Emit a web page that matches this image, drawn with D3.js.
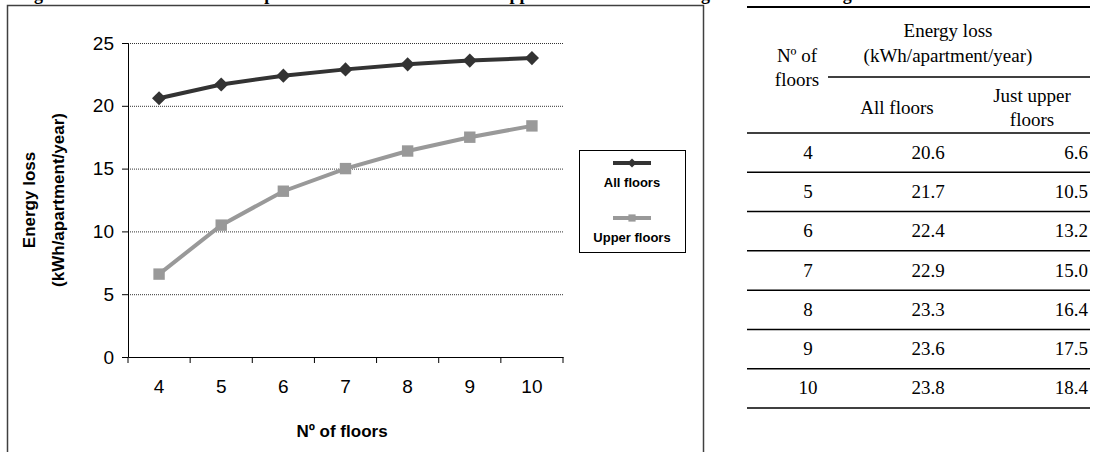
<!DOCTYPE html>
<html>
<head>
<meta charset="utf-8">
<script src="https://cdn.jsdelivr.net/npm/d3@7"></script>
<style>
  body { margin: 0; background: #fff; }
  svg { display: block; }
  .cell { font-family: "Times New Roman", "Liberation Serif", serif; font-size: 19px; fill: #000; }
</style>
</head>
<body>
<svg id="chart"></svg>
<script>
const floors = [4, 5, 6, 7, 8, 9, 10];
const allFloors = [20.6, 21.7, 22.4, 22.9, 23.3, 23.6, 23.8];
const upperFloors = [6.6, 10.5, 13.2, 15.0, 16.4, 17.5, 18.4];
const yTicks = [0, 5, 10, 15, 20, 25];
const seriesNames = ["All floors", "Upper floors"];

var width = 1095;
var height = 452;
var plot = { left: 128, right: 563, top: 43, bottom: 357 };
var sans = 'Arial, "Liberation Sans", sans-serif';

var svg = d3.select('#chart')
  .attr('width', width)
  .attr('height', height)
  .attr('viewBox', [0, 0, width, height]);

// cut off captions: only descenders are visible at the top edge
svg.append('text')
  .attr('x', 18).attr('y', 0)
  .style('font-family', '"Times New Roman", "Liberation Serif", serif')
  .style('font-weight', 'bold').style('font-size', '18px')
  .text('Figure 5. Total heat loss for an apartment on the whole and on upper floors of the building');
svg.append('text')
  .attr('x', 747).attr('y', 0)
  .style('font-family', '"Times New Roman", "Liberation Serif", serif')
  .style('font-weight', 'bold').style('font-size', '18px')
  .text('Table 3. Long-term heat loss data');

// chart frame
svg.append('rect')
  .attr('x', 7.5).attr('y', 5.5)
  .attr('width', 696).attr('height', 470)
  .attr('fill', '#fff')
  .attr('stroke', '#404040').attr('stroke-width', 1.5);

///////////////////////////////////////////////////////////////////////////
// scales
var x = d3.scaleBand()
  .domain(floors)
  .range([plot.left, plot.right])
  .padding(0);

var y = d3.scaleLinear()
  .domain([0, 25])
  .range([plot.bottom, plot.top]);

// gridlines (dotted)
svg.append('g')
  .selectAll('line')
  .data(yTicks.filter(d => d > 0))
  .join('line')
    .attr('x1', plot.left).attr('x2', plot.right)
    .attr('y1', d => y(d) + 0.5).attr('y2', d => y(d) + 0.5)
    .attr('stroke', '#333')
    .attr('stroke-width', 1)
    .attr('stroke-dasharray', '1,1');

// y axis
var yAxis = svg.append('g')
  .attr('transform', 'translate(' + plot.left + ',0)')
  .call(d3.axisLeft(y).tickValues(yTicks).tickSize(6).tickSizeOuter(0).tickPadding(8))
  .attr('font-size', 19).attr('font-family', sans);
yAxis.selectAll('path, line').attr('stroke', '#000');
yAxis.selectAll('text').attr('fill', '#000');

// x axis: labels centred in bands, ticks on band boundaries
var xAxis = svg.append('g')
  .attr('transform', 'translate(0,' + plot.bottom + ')')
  .call(d3.axisBottom(x).tickSize(0).tickSizeOuter(0).tickPadding(23))
  .attr('font-size', 19).attr('font-family', sans);
xAxis.select('.domain').attr('stroke', '#000');
xAxis.selectAll('text').attr('fill', '#000');
xAxis.selectAll('.bound')
  .data(floors.map(d => x(d)).concat([x.range()[1]]))
  .join('line')
    .attr('class', 'bound')
    .attr('x1', d => d).attr('x2', d => d)
    .attr('y1', 0).attr('y2', 6)
    .attr('stroke', '#000');

// axis titles
svg.append('text')
  .attr('transform', 'translate(35,200) rotate(-90)')
  .attr('text-anchor', 'middle')
  .style('font-family', sans)
  .style('font-weight', 'bold').style('font-size', '17px')
  .text('Energy loss');
svg.append('text')
  .attr('transform', 'translate(64,200) rotate(-90)')
  .attr('text-anchor', 'middle')
  .style('font-family', sans)
  .style('font-weight', 'bold').style('font-size', '17px')
  .text('(kWh/apartment/year)');
svg.append('text')
  .attr('x', 342).attr('y', 437)
  .attr('text-anchor', 'middle')
  .style('font-family', sans)
  .style('font-weight', 'bold').style('font-size', '17px')
  .text('N\u00BA of floors');

///////////////////////////////////////////////////////////////////////////
// lines + markers
var series = [
  { name: seriesNames[0], values: allFloors, color: '#333', symbol: d3.symbolSquare, size: 100, rot: 45 },
  { name: seriesNames[1], values: upperFloors, color: '#999', symbol: d3.symbolSquare, size: 130, rot: 0 }
];
var line = d3.line()
  .x((d, i) => x(floors[i]) + x.bandwidth() / 2)
  .y(d => y(d));

series.forEach(function(s) {
  svg.append('path')
    .datum(s.values)
    .attr('d', line)
    .attr('fill', 'none')
    .attr('stroke', s.color)
    .attr('stroke-width', 4);
  svg.append('g')
    .selectAll('path')
    .data(s.values)
    .join('path')
      .attr('transform', (d, i) => 'translate(' + (x(floors[i]) + x.bandwidth() / 2) + ',' + y(d) + ') rotate(' + s.rot + ')')
      .attr('d', d3.symbol().type(s.symbol).size(s.size))
      .attr('fill', s.color);
});

// legend
var legend = svg.append('g');
legend.append('rect')
  .attr('x', 579.5).attr('y', 150.5)
  .attr('width', 106).attr('height', 102)
  .attr('fill', '#fff').attr('stroke', '#000').attr('stroke-width', 1);
series.forEach(function(s, i) {
  var ly = 163 + i * 55;
  legend.append('line')
    .attr('x1', 613).attr('x2', 651)
    .attr('y1', ly).attr('y2', ly)
    .attr('stroke', s.color).attr('stroke-width', 4);
  legend.append('path')
    .attr('transform', 'translate(632,' + ly + ') rotate(' + s.rot + ')')
    .attr('d', d3.symbol().type(s.symbol).size(s.size * 0.4))
    .attr('fill', s.color);
  legend.append('text')
    .attr('x', 632).attr('y', ly + 24)
    .attr('text-anchor', 'middle')
    .style('font-family', sans)
    .style('font-weight', 'bold').style('font-size', '13px')
    .text(s.name);
});

///////////////////////////////////////////////////////////////////////////
// table on the right
var tbl = { left: 747, right: 1090 };
var rowY = d3.scaleBand()
  .domain(floors)
  .range([133, 408]);
var fmt = d3.format('.1f');

var table = svg.append('g');

// rules
table.append('line')
  .attr('x1', tbl.left).attr('x2', tbl.right)
  .attr('y1', 7).attr('y2', 7)
  .attr('stroke', '#000').attr('stroke-width', 2);
table.append('line')
  .attr('x1', 828).attr('x2', tbl.right)
  .attr('y1', 77).attr('y2', 77)
  .attr('stroke', '#000').attr('stroke-width', 1.5);
table.selectAll('line.row')
  .data(floors.map(d => rowY(d)).concat([rowY.range()[1]]))
  .join('line')
    .attr('class', 'row')
    .attr('x1', tbl.left).attr('x2', tbl.right)
    .attr('y1', d => d).attr('y2', d => d)
    .attr('stroke', '#000').attr('stroke-width', 1.5);

// header
var header = [
  { t: 'Energy loss', x: 948, y: 37, a: 'middle' },
  { t: '(kWh/apartment/year)', x: 948, y: 62, a: 'middle' },
  { t: 'N\u00BA of', x: 797, y: 62, a: 'middle' },
  { t: 'floors', x: 797, y: 86, a: 'middle' },
  { t: 'All floors', x: 897, y: 114, a: 'middle' },
  { t: 'Just upper', x: 1032, y: 102, a: 'middle' },
  { t: 'floors', x: 1032, y: 126, a: 'middle' }
];
table.selectAll('text.head')
  .data(header)
  .join('text')
    .attr('class', 'cell head')
    .attr('x', d => d.x).attr('y', d => d.y)
    .attr('text-anchor', d => d.a)
    .text(d => d.t);

// body
floors.forEach(function(f, i) {
  var by = rowY(f) + rowY.bandwidth() / 2 + 6;
  table.append('text').attr('class', 'cell')
    .attr('x', 808).attr('y', by).attr('text-anchor', 'middle').text(f);
  table.append('text').attr('class', 'cell')
    .attr('x', 928).attr('y', by).attr('text-anchor', 'middle').text(fmt(allFloors[i]));
  table.append('text').attr('class', 'cell')
    .attr('x', 1088).attr('y', by).attr('text-anchor', 'end').text(fmt(upperFloors[i]));
});
</script>
</body>
</html>
